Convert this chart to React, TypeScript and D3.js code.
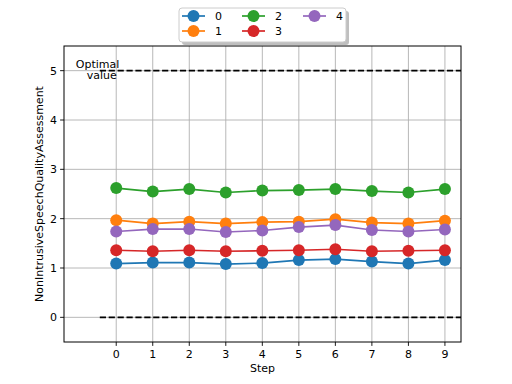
import React from "react";
import * as d3 from "d3";

const steps = [0, 1, 2, 3, 4, 5, 6, 7, 8, 9];
const seriesNames = ["0", "1", "2", "3", "4"];
const colors = ["#1f77b4", "#ff7f0e", "#2ca02c", "#d62728", "#9467bd"];
const series0 = [1.09, 1.11, 1.11, 1.08, 1.1, 1.16, 1.18, 1.13, 1.09, 1.16];
const series1 = [1.97, 1.9, 1.94, 1.9, 1.93, 1.94, 1.99, 1.92, 1.9, 1.96];
const series2 = [2.62, 2.55, 2.6, 2.53, 2.57, 2.58, 2.6, 2.56, 2.53, 2.6];
const series3 = [1.36, 1.34, 1.36, 1.34, 1.35, 1.36, 1.38, 1.34, 1.35, 1.36];
const series4 = [1.74, 1.79, 1.79, 1.73, 1.76, 1.83, 1.87, 1.77, 1.74, 1.78];
const allSeries = [series0, series1, series2, series3, series4];
const yTicks = [0, 1, 2, 3, 4, 5];
const optimalLines = [5, 0];

const FONT = "DejaVu Sans, sans-serif";

export default function App() {
  const W = 512, H = 384;
  const left = 64, right = 461, top = 46, bottom = 342;

  const x = d3.scaleLinear().domain([-1.43, 9.44]).range([left, right]);
  const y = d3.scaleLinear().domain([-0.5, 5.5]).range([bottom, top]);

  const line = d3
    .line<number>()
    .x((_, i) => x(steps[i]))
    .y((d) => y(d));

  // legend layout
  const lgX = 179, lgY = 8, lgW = 167, lgH = 34;
  const colX = [182, 242, 303];
  const rowY = [16, 31];

  return (
    <svg width={W} height={H} style={{ position: "absolute", left: 0, top: 0 }} fontFamily={FONT}>
      <defs>
        <clipPath id="plot">
          <rect x={left} y={top} width={right - left} height={bottom - top} />
        </clipPath>
      </defs>
      <rect width={W} height={H} fill="#fff" />

      {/* grid */}
      {steps.map((s) => (
        <line key={"gx" + s} x1={x(s)} x2={x(s)} y1={top} y2={bottom} stroke="#b0b0b0" strokeWidth={0.9} />
      ))}
      {yTicks.map((t) => (
        <line key={"gy" + t} x1={left} x2={right} y1={y(t)} y2={y(t)} stroke="#b0b0b0" strokeWidth={0.9} />
      ))}

      <g clipPath="url(#plot)">
        {optimalLines.map((v) => (
          <line
            key={"opt" + v}
            x1={x(-0.45)}
            x2={x(9.5)}
            y1={y(v)}
            y2={y(v)}
            stroke="#000"
            strokeWidth={1.7}
            strokeDasharray="6.2,2.7"
          />
        ))}
        {allSeries.map((vals, si) => (
          <g key={"s" + si}>
            <path d={line(vals) || ""} fill="none" stroke={colors[si]} strokeWidth={1.7} />
            {vals.map((v, i) => (
              <circle key={i} cx={x(steps[i])} cy={y(v)} r={6} fill={colors[si]} />
            ))}
          </g>
        ))}
      </g>

      <text fontSize={11} textAnchor="middle" fill="#000">
        <tspan x={x(-0.51)} y={y(5) - 2.3}>Optimal</tspan>
        <tspan x={x(-0.51) + 4.2} y={y(5) + 8}>value</tspan>
      </text>

      {/* axes frame */}
      <rect x={left} y={top} width={right - left} height={bottom - top} fill="none" stroke="#000" strokeWidth={1} />

      {/* ticks */}
      {steps.map((s) => (
        <g key={"tx" + s}>
          <line x1={x(s)} x2={x(s)} y1={bottom} y2={bottom + 3.9} stroke="#000" strokeWidth={0.9} />
          <text x={x(s)} y={bottom + 16} fontSize={11} textAnchor="middle" fill="#000">
            {s}
          </text>
        </g>
      ))}
      {yTicks.map((t) => (
        <g key={"ty" + t}>
          <line x1={left - 3.9} x2={left} y1={y(t)} y2={y(t)} stroke="#000" strokeWidth={0.9} />
          <text x={left - 7} y={y(t) + 4} fontSize={11} textAnchor="end" fill="#000">
            {t}
          </text>
        </g>
      ))}

      <text x={(left + right) / 2} y={372} fontSize={11} textAnchor="middle" fill="#000">
        Step
      </text>
      <text
        transform={`translate(${43},${(top + bottom) / 2}) rotate(-90)`}
        fontSize={11}
        textAnchor="middle"
        fill="#000"
      >
        NonIntrusiveSpeechQualityAssessment
      </text>

      {/* legend */}
      <rect x={lgX + 3} y={lgY + 3} width={lgW} height={lgH} rx={3} fill="#808080" opacity={0.5} />
      <rect x={lgX} y={lgY} width={lgW} height={lgH} rx={3} fill="#fff" stroke="#cccccc" strokeWidth={1} />
      {seriesNames.map((name, i) => {
        const cx = colX[Math.floor(i / 2)];
        const cy = rowY[i % 2];
        return (
          <g key={"lg" + name}>
            <line x1={cx} x2={cx + 23} y1={cy} y2={cy} stroke={colors[i]} strokeWidth={1.7} />
            <circle cx={cx + 11.5} cy={cy} r={6} fill={colors[i]} />
            <text x={cx + 33} y={cy + 4} fontSize={11} fill="#000">
              {name}
            </text>
          </g>
        );
      })}
    </svg>
  );
}
